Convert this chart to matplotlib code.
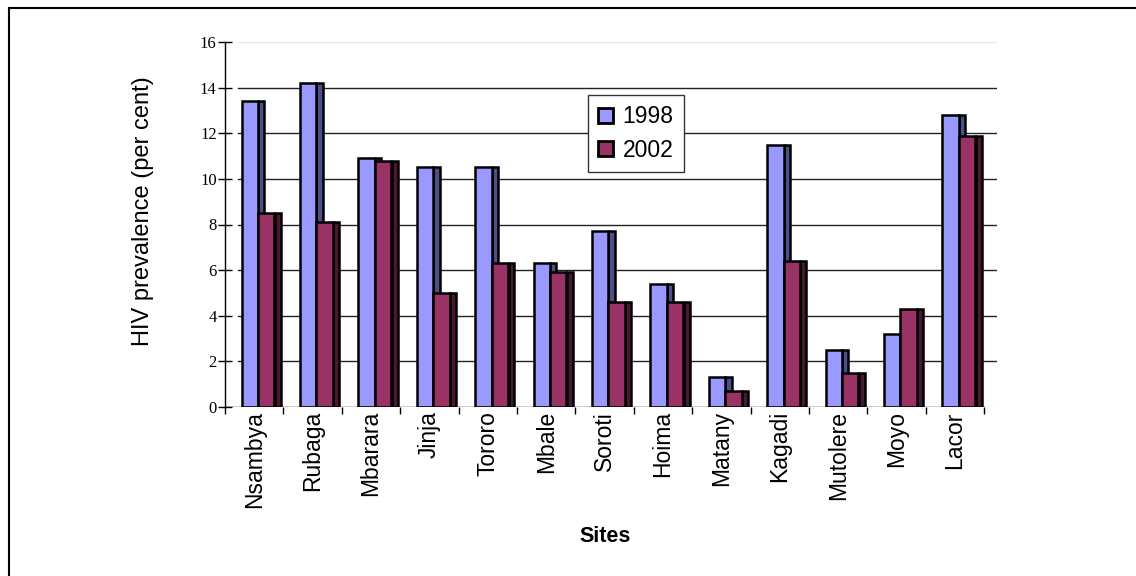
import numpy as np
import matplotlib
matplotlib.use("Agg")
import matplotlib.pyplot as plt
from matplotlib.patches import Patch
from matplotlib.lines import Line2D

sites = ["Nsambya", "Rubaga", "Mbarara", "Jinja", "Tororo", "Mbale", "Soroti",
         "Hoima", "Matany", "Kagadi", "Mutolere", "Moyo", "Lacor"]
prev_1998 = [13.4, 14.2, 10.9, 10.5, 10.5, 6.3, 7.7, 5.4, 1.3, 11.5, 2.5, 3.2, 12.8]
prev_2002 = [8.5, 8.1, 10.8, 5.0, 6.3, 5.9, 4.6, 4.6, 0.7, 6.4, 1.5, 4.3, 11.9]
yticks = [0, 2, 4, 6, 8, 10, 12, 14, 16]

W, H = 1136, 576
fig = plt.figure(figsize=(W / 100, H / 100), dpi=100)
ax = fig.add_axes([225 / W, 169 / H, 772 / W, 365 / H])

n = len(sites)
x = np.arange(n)
front_w = 0.28
depth = 0.11
c98, c98_side = "#9999FF", "#4B5088"
c02, c02_side = "#993366", "#4A1830"
lw = 1.8

# fake 3d: dark side strip behind each front face
ax.bar(x + 0.565, prev_1998, width=depth, align="edge", color=c98_side,
       edgecolor="black", linewidth=lw, zorder=2)
ax.bar(x + 0.285, prev_1998, width=front_w, align="edge", color=c98,
       edgecolor="black", linewidth=lw, zorder=3)
ax.bar(x + 0.855, prev_2002, width=depth - 0.01, align="edge", color=c02_side,
       edgecolor="black", linewidth=lw, zorder=2.5)
ax.bar(x + 0.565, prev_2002, width=front_w, align="edge", color=c02,
       edgecolor="black", linewidth=lw, zorder=4)

# gridlines on the back wall
for v in yticks[1:]:
    col = "#e8e8e8" if v == 16 else "#222222"
    ax.plot([0.22, n + 0.22], [v, v], color=col, linewidth=1, zorder=1)
ax.plot([n, n + 0.22], [0, 0], color="#dddddd", linewidth=1, zorder=1)
ax.plot([0, n], [0, 0], color="black", linewidth=1, zorder=5)

ax.set_xlim(0, n + 0.22)
ax.set_ylim(0, 16)
for s in ["top", "right", "bottom"]:
    ax.spines[s].set_visible(False)
ax.spines["left"].set_linewidth(1)

ax.set_yticks(yticks)
ax.set_yticklabels([str(v) for v in yticks], fontfamily="Liberation Serif", fontsize=12)
ax.tick_params(axis="y", direction="inout", length=10, width=1, pad=1)

ax.set_xticks(np.arange(n + 1))
ax.set_xticklabels([])
ax.tick_params(axis="x", which="major", direction="out", length=5, width=1)
ax.set_xticks(x + 0.5, minor=True)
ax.set_xticklabels(sites, minor=True, rotation=90, fontfamily="Liberation Sans",
                   fontsize=16.5)
ax.tick_params(axis="x", which="minor", length=0, pad=3)

fig.text(143 / W, 1 - 211 / H, "HIV prevalence (per cent)", rotation=90,
         ha="center", va="center", fontfamily="Liberation Sans", fontsize=17)
fig.text(605 / W, 1 - 537 / H, "Sites", ha="center", va="center",
         fontfamily="Liberation Sans", fontweight="bold", fontsize=15.5)

handles = [Patch(facecolor=c98, edgecolor="black", linewidth=2),
           Patch(facecolor=c02, edgecolor="black", linewidth=2)]
leg = fig.legend(handles, ["1998", "2002"], loc="upper left",
                 bbox_to_anchor=(588 / W, 1 - 95 / H), borderaxespad=0,
                 prop={"family": "Liberation Sans", "size": 16.5},
                 handlelength=0.65, handleheight=0.65, handletextpad=0.4,
                 labelspacing=0.45, borderpad=0.45, fancybox=False, framealpha=1)
leg.get_frame().set_edgecolor("#333333")
leg.get_frame().set_linewidth(1)

# outer border (top and left edges)
fig.add_artist(Line2D([9 / W, 1], [1 - 8 / H, 1 - 8 / H], color="black", linewidth=1.5))
fig.add_artist(Line2D([9 / W, 9 / W], [0, 1 - 8 / H], color="black", linewidth=1.5))

fig.savefig("out.png", dpi=100)
